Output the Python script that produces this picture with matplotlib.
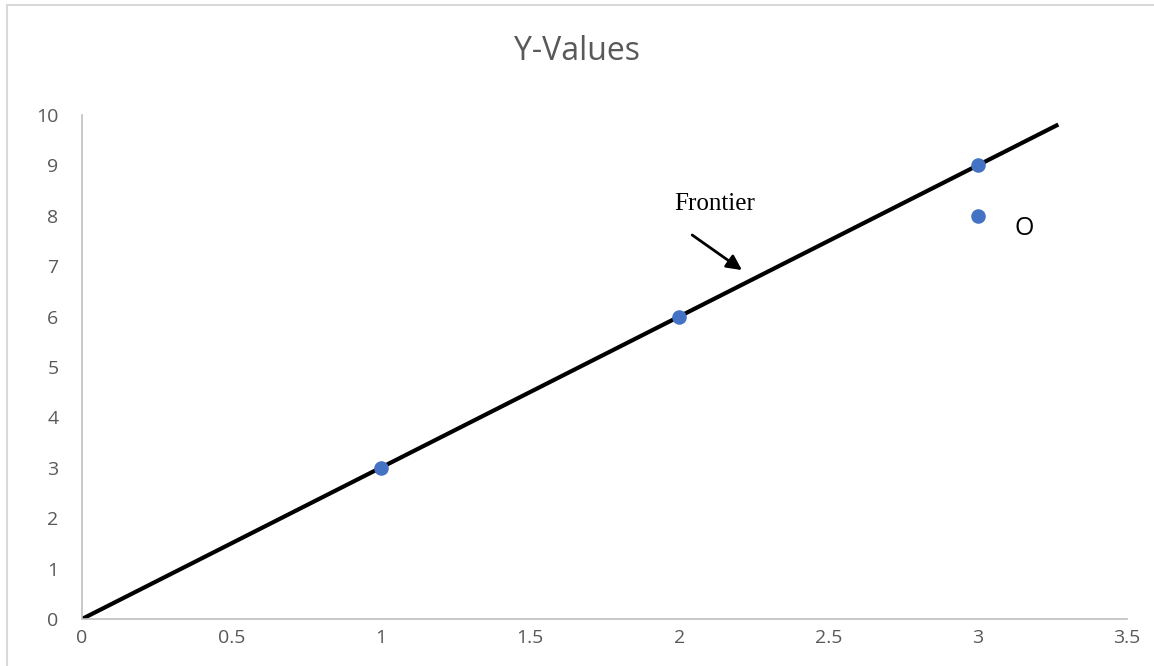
import matplotlib
matplotlib.use("Agg")
import matplotlib.pyplot as plt
from matplotlib.lines import Line2D

x_pts = [1, 2, 3, 3]
y_pts = [3, 6, 9, 8]
frontier_x = [0, 3.27]
frontier_slope = 3
x_ticks = [0, 0.5, 1, 1.5, 2, 2.5, 3, 3.5]
x_tick_labels = ["0", "0.5", "1", "1.5", "2", "2.5", "3", "3.5"]
y_ticks = list(range(0, 11))
title = "Y-Values"

plt.rcParams['font.family'] = ['Open Sans', 'DejaVu Sans']
fig = plt.figure(figsize=(11.54, 6.66), dpi=100)
ax = fig.add_axes([0.0711, 0.0706, 0.9055, 0.7568])

ax.plot(frontier_x, [frontier_slope * v for v in frontier_x], color="black", lw=3, solid_capstyle="butt", zorder=2)
ax.scatter(x_pts, y_pts, s=110, color="#4472C4", zorder=3, linewidths=0)

ax.set_xlim(0, 3.5)
ax.set_ylim(0, 10)
ax.set_xticks(x_ticks)
ax.set_xticklabels(x_tick_labels)
ax.set_yticks(y_ticks)
ax.tick_params(axis="both", length=0, labelsize=14, colors="#595959")
ax.tick_params(axis="x", pad=7)
ax.tick_params(axis="y", pad=17)
for s in ["top", "right"]:
    ax.spines[s].set_visible(False)
for s in ["left", "bottom"]:
    ax.spines[s].set_color("#BFBFBF")
    ax.spines[s].set_linewidth(1.2)

fig.text(0.5, 1 - 51 / 666, title, ha="center", va="center", fontsize=23, color="#595959")

ax.annotate("", xy=(2.218, 6.89), xytext=(2.036, 7.65),
            arrowprops=dict(arrowstyle="-|>,head_length=0.9,head_width=0.45", color="black", lw=2))
ax.text(2.12, 8.24, "Frontier", ha="center", va="center", fontsize=18,
        family=["Liberation Serif", "DejaVu Serif"], color="black")
ax.text(3.155, 7.74, "O", ha="center", va="center", fontsize=18, color="black")

fig.add_artist(Line2D([7 / 1154, 1], [1 - 5 / 666, 1 - 5 / 666], transform=fig.transFigure, color="#D9D9D9", lw=1.5))
fig.add_artist(Line2D([7 / 1154, 7 / 1154], [0, 1 - 5 / 666], transform=fig.transFigure, color="#D9D9D9", lw=1.5))

fig.savefig("out.png", dpi=100)
